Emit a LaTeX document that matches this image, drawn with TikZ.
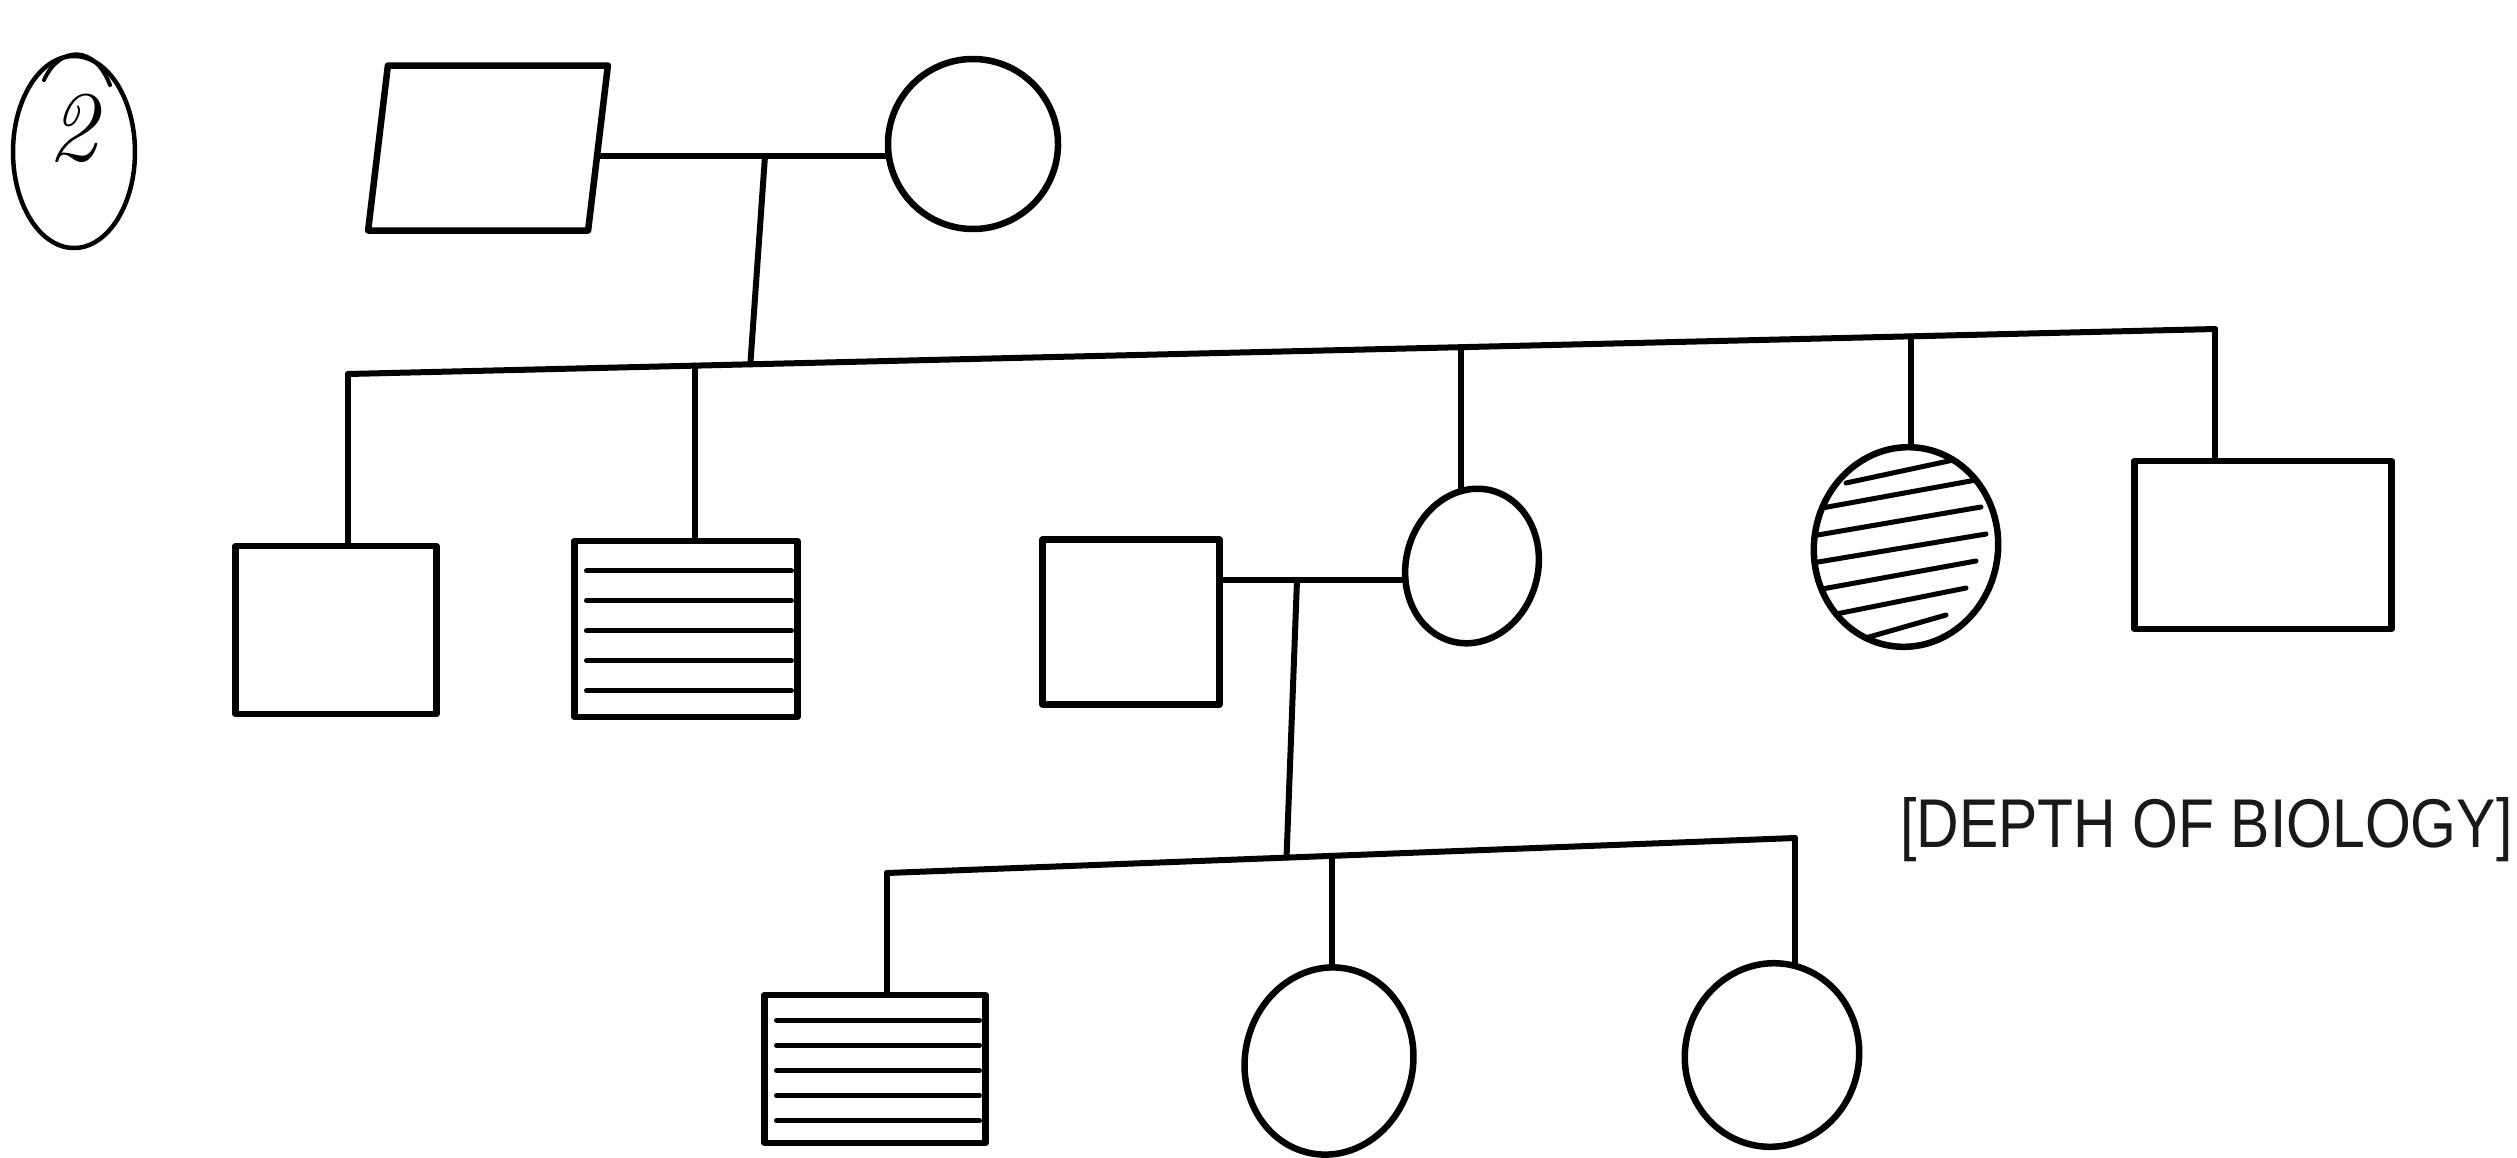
\documentclass[tikz,border=0pt]{standalone}
\usepackage{fontspec}
\usepackage{graphicx}
\newfontfamily\labelfont{Liberation Sans}
\usetikzlibrary{shapes.geometric,calc}
\pgfdeclarelayer{background}
\pgfsetlayers{background,main}
\begin{document}
\begin{tikzpicture}[x=1pt,y=-1pt, line width=6.5pt, line cap=round, line join=round,
  sq/.style={draw, fill=white, rectangle, inner sep=0pt},
  fem/.style={draw, fill=white, ellipse, inner sep=0pt},
  hatch/.style={path picture={
    \foreach \f in {0.17,0.34,0.51,0.68,0.85}
      \draw[line width=5pt] ($(path picture bounding box.north west)!\f!(path picture bounding box.south west)+(12,0)$) -- ($(path picture bounding box.north east)!\f!(path picture bounding box.south east)+(-6,0)$);}},
  hline/.style={line width=5pt},
  conn/.style={line width=6pt, line cap=round, line join=round, draw=black},
]
\useasboundingbox (0,0) rectangle (2517,1157);

% label "2"
\node[draw, ellipse, inner sep=0pt, minimum width=122pt, minimum height=192pt, line width=4.5pt] (num) at (74,152) {};
\draw[line width=4pt] (44,80) .. controls (60,45) and (95,45) .. (110,85);
\node[inner sep=0pt, font=\fontsize{100}{100}\selectfont\itshape] (numtxt) at (72,128) {2};

% Generation I
\node[sq, minimum width=220pt, minimum height=165pt, xslant=0.12] (f1) at (488,148) {};
\node[fem, minimum width=170pt, minimum height=170pt, rotate=-10] (m1) at (973,144) {};
\coordinate (mar1) at (765,156);
\coordinate (sibL) at (348,374);
\coordinate (sibR) at (2215,329);
\coordinate (drop1) at ($(sibL)!0.2155!(sibR)$);

% Generation II
\coordinate (s1) at (sibL);
\coordinate (s2) at ($(sibL)!0.186!(sibR)$);
\coordinate (s3) at ($(sibL)!0.596!(sibR)$);
\coordinate (s4) at ($(sibL)!0.837!(sibR)$);
\coordinate (s5) at (sibR);

\node[sq, minimum width=201pt, minimum height=168pt] (c1) at (336,630) {};
\node[sq, hatch, minimum width=223pt, minimum height=176pt] (c2) at (686,629) {};
\node[fem, minimum width=132pt, minimum height=156pt, rotate=-15] (c3) at (1472,566) {};
\node[fem, minimum width=184pt, minimum height=200pt, rotate=-9] (c4) at (1906,547) {};
\node[sq, minimum width=257pt, minimum height=168pt] (c5) at (2263,545) {};
\begin{scope}
  \clip[rotate around={-9:(1906,547)}] (1906,547) ellipse [x radius=90, y radius=98];
  \foreach \i/\l/\r in {-3/-60/80,-2/-95/70,-1/-100/75,0/-100/80,1/-95/70,2/-90/60,3/-65/40}
    \draw[hline] (1906+\l,547+\i*27+17) -- (1906+\r,547+\i*27-13);
\end{scope}

% Spouse and Generation III
\node[sq, minimum width=177pt, minimum height=165pt] (sp) at (1131,622) {};
\coordinate (mar2) at (1297,580);
\coordinate (tL) at (887,873);
\coordinate (tR) at (1795,838);
\coordinate (tm) at ($(tL)!0.44!(tR)$);
\coordinate (t2) at ($(tL)!0.49!(tR)$);

\node[sq, hatch, minimum width=221pt, minimum height=148pt] (g1) at (875,1069) {};
\node[fem, minimum width=168pt, minimum height=188pt, rotate=-12] (g2) at (1329,1061) {};
\node[fem, minimum width=174pt, minimum height=184pt, rotate=-12] (g3) at (1772,1055) {};

% connectors (behind the symbols)
\begin{pgfonlayer}{background}
\fill[white] (0,0) rectangle (2517,1157);
\draw[conn] (f1.center |- mar1) -- (mar1) -- (m1.center |- mar1);
\draw[conn] (mar1) -- (drop1);
\draw[conn] (sibL) -- (sibR);
\draw[conn] (s1) -- (s1 |- c1.center);
\draw[conn] (s2) -- (s2 |- c2.center);
\draw[conn] (s3) -- (s3 |- c3.center);
\draw[conn] (s4) -- (s4 |- c4.center);
\draw[conn] (s5) -- (s5 |- c5.center);
\draw[conn] (sp.center |- mar2) -- (mar2) -- (c3.center |- mar2);
\draw[conn] (mar2) -- (tm);
\draw[conn] (tL) -- (tR);
\draw[conn] (tL) -- (tL |- g1.center);
\draw[conn] (t2) -- (t2 |- g2.center);
\draw[conn] (tR) -- (tR |- g3.center);
\end{pgfonlayer}

% caption
\node[font=\labelfont, text=black!90, inner sep=0pt, anchor=base west] (cap) at (1900,847) {\resizebox{612pt}{50pt}{[DEPTH OF BIOLOGY]}};
\end{tikzpicture}
\end{document}
